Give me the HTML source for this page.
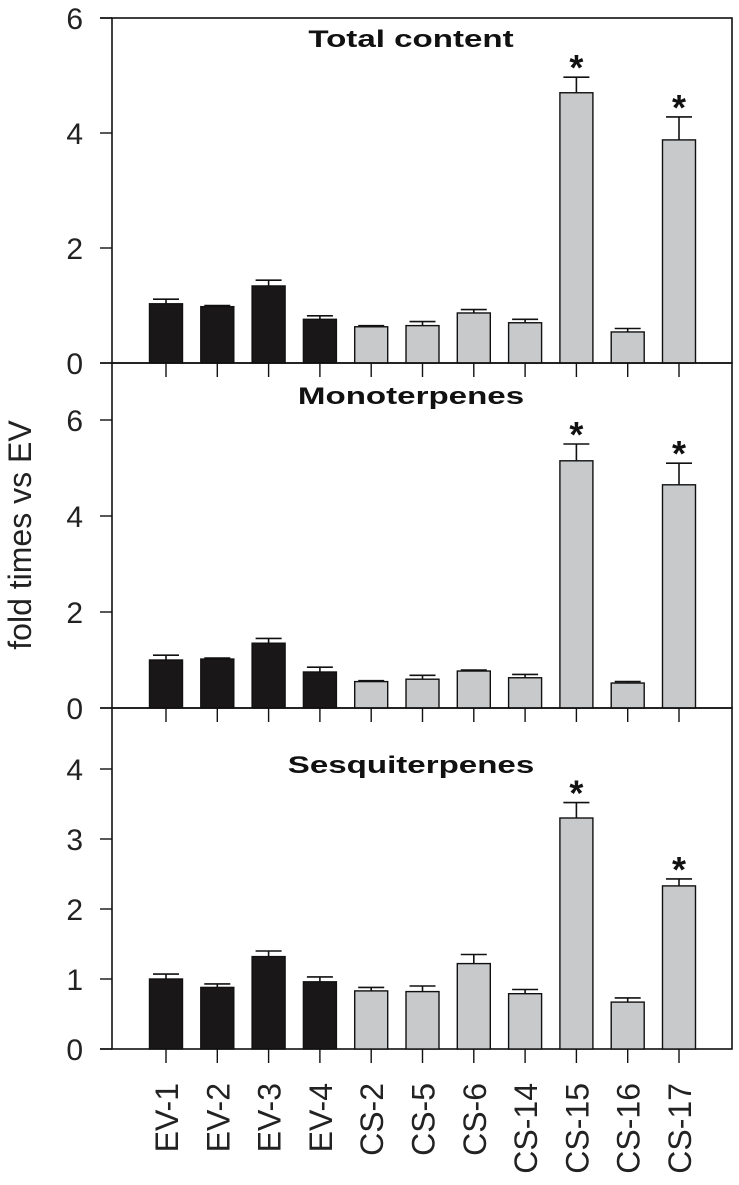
<!DOCTYPE html>
<html><head><meta charset="utf-8"><style>
body{margin:0;background:#fff}
svg{display:block;font-family:"Liberation Sans",Arial,sans-serif}
</style></head><body>
<svg id="chart" width="739" height="1185" viewBox="0 0 739 1185"></svg>
<script>
const categories=["EV-1","EV-2","EV-3","EV-4","CS-2","CS-5","CS-6","CS-14","CS-15","CS-16","CS-17"];
const totalValues=[1.03,0.98,1.34,0.76,0.63,0.65,0.87,0.70,4.70,0.54,3.88];
const totalErrors=[0.08,0.02,0.10,0.06,0.02,0.07,0.06,0.06,0.27,0.06,0.40];
const monoValues=[1.0,1.02,1.35,0.75,0.55,0.6,0.77,0.63,5.15,0.52,4.65];
const monoErrors=[0.1,0.02,0.1,0.1,0.02,0.08,0.02,0.07,0.35,0.03,0.45];
const sesqValues=[1.0,0.88,1.32,0.96,0.83,0.82,1.22,0.79,3.3,0.67,2.33];
const sesqErrors=[0.07,0.05,0.08,0.07,0.05,0.08,0.13,0.06,0.22,0.06,0.10];
const significant=[false,false,false,false,false,false,false,false,true,false,true];
const totalTicks=[0,2,4,6];
const monoTicks=[0,2,4,6];
const sesqTicks=[0,1,2,3,4];
const panelTitles=["Total content","Monoterpenes","Sesquiterpenes"];

const NS="http://www.w3.org/2000/svg";
const svg=document.getElementById('chart');
function mk(tag,attrs,parent){const e=document.createElementNS(NS,tag);for(const k in attrs)e.setAttribute(k,attrs[k]);(parent||svg).appendChild(e);return e;}
const left=112,right=732;
const x=i=>166+i*51.3;
const barW=33;
const panels=[
 {top:18,base:363,max:6.0,vals:totalValues,errs:totalErrors,ticks:totalTicks,title:panelTitles[0],ty:47},
 {top:363,base:708,max:(708-363)/48,vals:monoValues,errs:monoErrors,ticks:monoTicks,title:panelTitles[1],ty:404},
 {top:708,base:1049,max:(1049-708)/70,vals:sesqValues,errs:sesqErrors,ticks:sesqTicks,title:panelTitles[2],ty:773}
];
panels.forEach((p,pi)=>{
 const y=v=>p.base-(v/p.max)*(p.base-p.top);
 const g=mk('g',{});
 
 
 const fr=mk('rect',{x:left,y:p.top,width:right-left,height:p.base-p.top,fill:'none',stroke:'#111','stroke-width':1.6},g);
 
 
 if(pi===0){mk('line',{x1:100,y1:p.top,x2:left,y2:p.top,stroke:'#111','stroke-width':1.6},g);}
 mk('line',{x1:100,y1:p.base,x2:left,y2:p.base,stroke:'#111','stroke-width':1.6},g);
 p.ticks.forEach(t=>{
  const ty=y(t);
  const tk=mk('line',{x1:100,y1:ty,x2:left,y2:ty,stroke:'#111','stroke-width':1.4},g);
  
  
  const lb=mk('text',{x:83,y:ty+11,'text-anchor':'end','font-size':30,fill:'#222'},g);
  lb.textContent=t;
  
  
 });
 const tt=mk('text',{x:0,y:0,'text-anchor':'middle','font-size':24,'font-weight':'bold',fill:'#111',transform:`translate(${(left+right)/2-11},${p.ty}) scale(1.38,1)`},g);
 tt.textContent=p.title;
 
 
 categories.forEach((c,i)=>{
  const cx=x(i);
  mk('line',{x1:cx,y1:p.base,x2:cx,y2:p.base+14,stroke:'#111','stroke-width':1.4},g);
  const top=y(p.vals[i]),et=y(p.vals[i]+p.errs[i]);
  mk('line',{x1:cx,y1:et,x2:cx,y2:top,stroke:'#111','stroke-width':1.6},g);
  mk('line',{x1:cx-13,y1:et,x2:cx+13,y2:et,stroke:'#111','stroke-width':1.6},g);
  const b=mk('rect',{x:cx-barW/2,y:top,width:barW,height:p.base-top,fill:i<4?'#1a1718':'#c8c9cb',stroke:'#111','stroke-width':1.4},g);
  
  
  if(significant[i]){
   const s=mk('text',{x:cx,y:et+3,'text-anchor':'middle','font-size':36,'font-weight':'bold',fill:'#111'},g);
   s.textContent='*';
   
   
  }
 });
});
categories.forEach((c,i)=>{
 const t=mk('text',{x:0,y:0,'text-anchor':'end','font-size':32,fill:'#222',transform:`translate(${x(i)+12},1083) rotate(-90)`});
 t.textContent=c;
 
 
});
const yt=mk('text',{x:0,y:0,'text-anchor':'middle','font-size':32,fill:'#222',transform:'translate(31,535) rotate(-90)'});
yt.textContent='fold times vs EV';


</script>
</body></html>
